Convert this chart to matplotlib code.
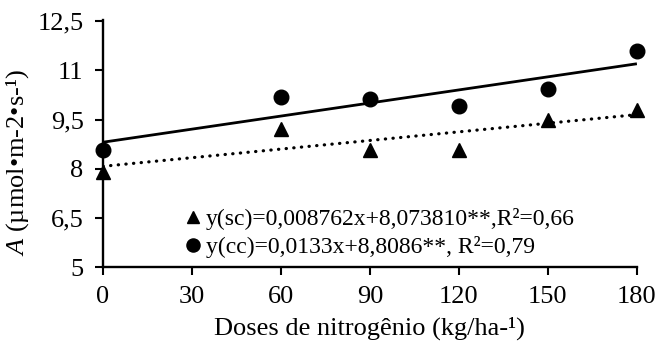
import matplotlib
matplotlib.use("Agg")
import matplotlib.pyplot as plt
import numpy as np
from matplotlib.ticker import FuncFormatter

plt.rcParams["font.family"] = ["Liberation Serif", "DejaVu Serif"]
plt.rcParams["mathtext.fontset"] = "custom"
plt.rcParams["mathtext.it"] = "Liberation Serif:italic"
plt.rcParams["mathtext.rm"] = "Liberation Serif"

# nitrogen doses (kg/ha)
doses = [0, 60, 90, 120, 150, 180]
a_sc = [7.9, 9.22, 8.58, 8.58, 9.5, 9.8]
a_cc = [8.58, 10.2, 10.14, 9.9, 10.42, 11.6]

# regression coefficients (slope, intercept)
fit_sc = (0.008762, 8.073810)
fit_cc = (0.0133, 8.8086)

label_sc = "y(sc)=0,008762x+8,073810**,R²=0,66"
label_cc = "y(cc)=0,0133x+8,8086**, R²=0,79"

xticks = [0, 30, 60, 90, 120, 150, 180]
yticks = [5, 6.5, 8, 9.5, 11, 12.5]

fig = plt.figure(figsize=(6.6, 3.5), dpi=100)
ax = fig.add_axes([0.156, 0.237, 0.809, 0.707])

xs = np.array([0, 180])
ax.plot(xs, fit_cc[0] * xs + fit_cc[1], color="black", lw=2, solid_capstyle="butt")
ax.plot(xs, fit_sc[0] * xs + fit_sc[1], color="black", lw=2.3,
        linestyle=(0, (0.1, 2.3)), dash_capstyle="round")

h_sc, = ax.plot(doses, a_sc, "^", color="black", ms=10, ls="none", clip_on=False)
h_cc, = ax.plot(doses, a_cc, "o", color="black", ms=10.5, ls="none", clip_on=False)

ax.set_xlim(0, 180)
ax.set_ylim(5, 12.55)
ax.set_xticks(xticks)
ax.set_yticks(yticks)
ax.yaxis.set_major_formatter(FuncFormatter(lambda v, p: f"{v:g}".replace(".", ",")))
ax.tick_params(labelsize=19, direction="out", length=6, width=1.5, pad=8)
for s in ["top", "right"]:
    ax.spines[s].set_visible(False)
for s in ["left", "bottom"]:
    ax.spines[s].set_linewidth(1.7)

ax.set_xlabel("Doses de nitrogênio (kg/ha-¹)", fontsize=19, labelpad=6)
ax.set_ylabel("$A$ (µmol•m-2•s-¹)", fontsize=19)
ax.yaxis.set_label_coords(-0.135, 0.42)

fig.legend([h_sc, h_cc], [label_sc, label_cc], loc="center left",
           bbox_to_anchor=(0.281, 0.333), frameon=False, fontsize=17,
           handlelength=0.6, handletextpad=0.25, labelspacing=0.25,
           borderpad=0, borderaxespad=0, markerscale=0.9)

fig.savefig("out.png", dpi=100)
